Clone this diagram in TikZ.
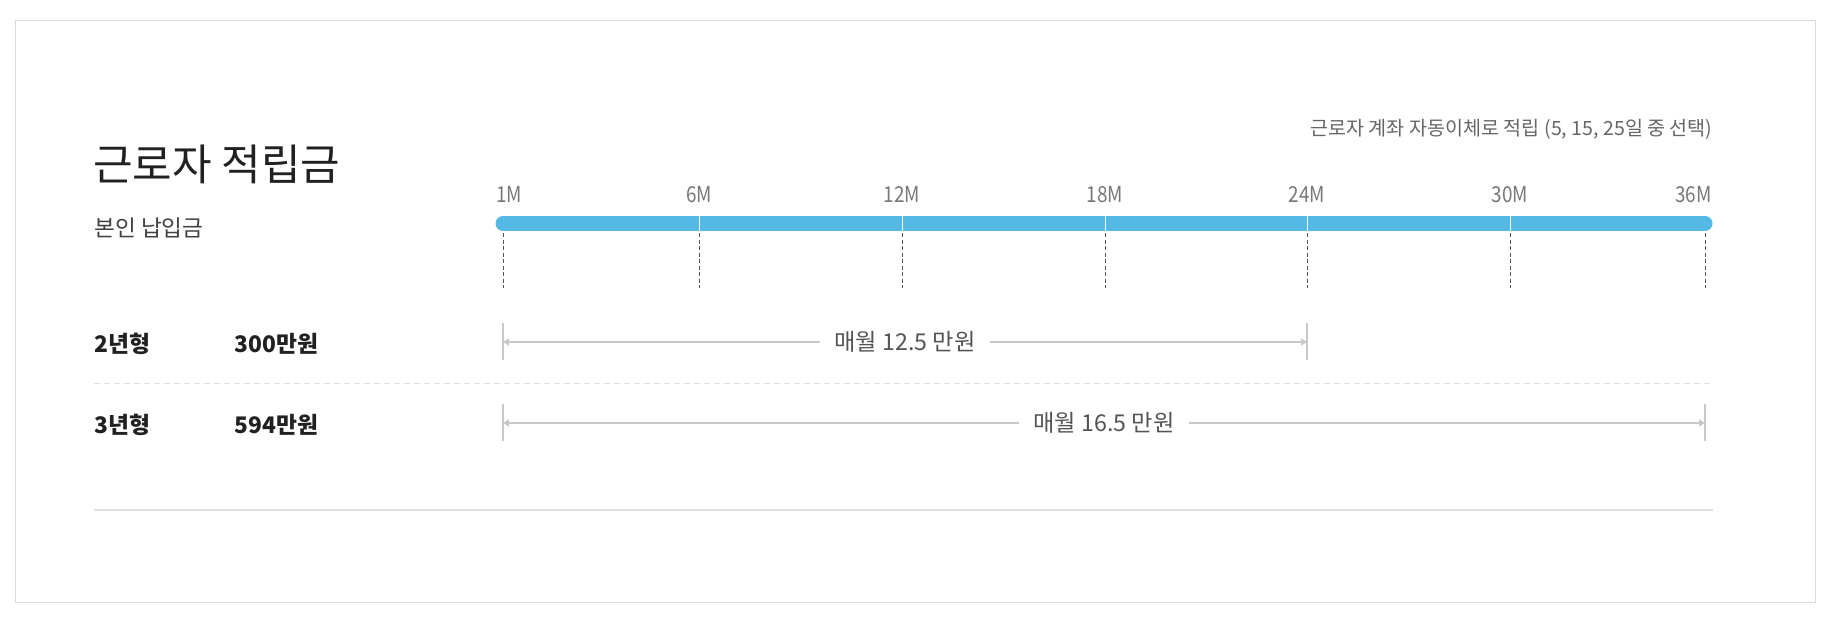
\documentclass[tikz,border=0pt]{standalone}
\usepackage{fontspec}
\setmainfont{Noto Sans CJK KR}
\newfontfamily\narrowfont[FakeStretch=0.86]{Noto Sans CJK KR}
\usepackage{xcolor}
\usetikzlibrary{arrows.meta, positioning}

\definecolor{barblue}{RGB}{85,185,229}
\definecolor{tickgray}{RGB}{85,85,85}
\definecolor{spangray}{RGB}{200,200,200}
\definecolor{linegray}{RGB}{224,224,224}
\definecolor{framegray}{RGB}{218,218,218}

\begin{document}
\begin{tikzpicture}[x=0.5pt, y=-0.5pt,
    titletext/.style={anchor=west, inner sep=0pt, text=black!87, font=\fontsize{21.5}{25}\selectfont},
    subtext/.style={anchor=west, inner sep=0pt, text=black!75, font=\fontsize{11.3}{13}\selectfont},
    notetext/.style={anchor=east, inner sep=0pt, text=black!60, font=\fontsize{9.8}{12}\selectfont},
    ticklabel/.style={inner sep=0pt, text=black!53, font=\narrowfont\fontsize{11}{13}\selectfont},
    rowlabel/.style={anchor=west, inner sep=0pt, text=black!87, font=\bfseries\fontsize{11.4}{13}\selectfont},
    spantext/.style={fill=white, inner xsep=7.5pt, inner ysep=1pt, text=black!67, font=\fontsize{11.6}{14}\selectfont},
    spanarrow/.style={{Triangle[length=3pt,width=3.5pt]}-{Triangle[length=3pt,width=3.5pt]}, draw=spangray, line width=0.75pt},
    bracket/.style={draw=spangray, line width=0.8pt},
    timebar/.style={draw=barblue, line width=7.5pt, line cap=round},
    tickline/.style={draw=tickgray, line width=0.5pt, dash pattern=on 2pt off 1.25pt},
    rowsep/.style={draw=linegray, line width=0.5pt, dash pattern=on 3pt off 2pt},
    bottomrule/.style={draw=linegray, line width=0.75pt}]

    % Canvas
    \fill[white] (0,0) rectangle (1833,618);
    \useasboundingbox (0,0) rectangle (1833,618);
    \draw[framegray, line width=0.5pt] (15,20) rectangle (1815,602);

    % Heading
    \node[titletext] (title) at (93,164) {근로자 적립금};
    \node[subtext] (own) at (94,228) {본인 납입금};
    \node[notetext] (note) at (1713,129) {근로자 계좌 자동이체로 적립 (5, 15, 25일 중 선택)};

    % Timeline
    \foreach \x/\lx/\lab/\anc [count=\i] in {503/496/1M/base west, 699/699/6M/base, 902/902/12M/base, 1105/1105/18M/base, 1307/1307/24M/base, 1510/1510/30M/base, 1705/1712/36M/base east} {
        \coordinate (t\i) at (\x,223.5);
        \node[ticklabel, anchor=\anc] (l\i) at (\lx,202) {\lab};
    }
    \draw[timebar] (t1) -- (t7);
    \foreach \i in {2,...,6}
        \draw[white, line width=0.5pt] (t\i) ++(0,-7.5) -- ++(0,15);
    \foreach \i in {1,...,7}
        \draw[tickline] (t\i) ++(0,9.5) -- ++(0,55);

    % Rows
    \node[rowlabel] (y2) at (94,344) {2년형};
    \node[rowlabel] (a2) at (234,344) {300만원};
    \node[rowlabel] (y3) at (94,425) {3년형};
    \node[rowlabel] (a3) at (234,425) {594만원};

    \coordinate (s2a) at (503,342);
    \coordinate (s2b) at (1307,342);
    \coordinate (s3a) at (503,423);
    \coordinate (s3b) at (1705,423);
    \foreach \c in {s2a,s2b,s3a,s3b}
        \draw[bracket] (\c) ++(0,-19) -- ++(0,37);

    \draw[spanarrow] (s2a) -- node[spantext] (m2) {매월 12.5 만원} (s2b);
    \draw[spanarrow] (s3a) -- node[spantext] (m3) {매월 16.5 만원} (s3b);

    % Rules
    \draw[rowsep] (94,383) -- (1713,383);
    \draw[bottomrule] (94,510) -- (1713,510);

\end{tikzpicture}
\end{document}
